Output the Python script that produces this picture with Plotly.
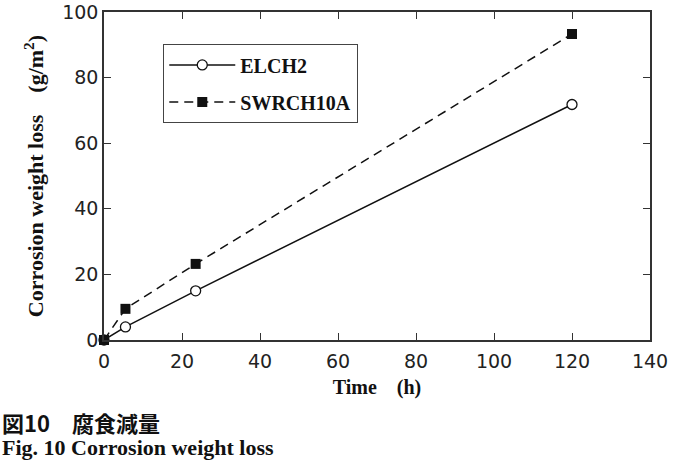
import plotly.graph_objects as go

time_h = [0, 5.5, 23.5, 120]
elch2 = [0, 4.0, 15.0, 71.8]
swrch10a = [0, 9.5, 23.2, 93.3]

x_ticks = [0, 20, 40, 60, 80, 100, 120, 140]
y_ticks = [0, 20, 40, 60, 80, 100]

serif = "Liberation Serif"
sans = "DejaVu Sans"
axis_col = "#333333"

fig = go.Figure()
fig.add_trace(go.Scatter(
    x=time_h, y=elch2, name="ELCH2", mode="lines+markers", legendgroup="a",
    line=dict(color="#111111", width=1.5),
    marker=dict(symbol="circle", size=10, color="white",
                line=dict(color="#111111", width=1.3)),
    cliponaxis=False,
))
fig.add_trace(go.Scatter(
    x=time_h, y=swrch10a, name="SWRCH10A", mode="lines+markers", legendgroup="b",
    line=dict(color="#111111", width=1.5, dash="9px,6px"),
    marker=dict(symbol="square", size=10, color="#111111",
                line=dict(color="#111111", width=0)),
    cliponaxis=False,
))

fig.update_layout(
    width=682, height=462,
    margin=dict(l=104, r=32, t=12, b=122),
    paper_bgcolor="white", plot_bgcolor="white",
    showlegend=True,
    legend=dict(
        x=0.108, y=0.902, xanchor="left", yanchor="top",
        bordercolor="#444444", borderwidth=1.3, bgcolor="white",
        font=dict(family=serif, size=20, color="#111111", weight="bold"),
        itemwidth=66, tracegroupgap=8, traceorder="grouped",
    ),
    xaxis=dict(
        range=[0, 140], tickvals=x_ticks, ticktext=[str(v) for v in x_ticks],
        ticks="inside", ticklen=7, tickwidth=1.3, tickcolor=axis_col,
        showline=True, linecolor=axis_col, linewidth=1.5, mirror="ticks",
        showgrid=False, zeroline=False, automargin=False, ticklabelstandoff=3,
        tickfont=dict(family=sans, size=19, color="#222222"),
        title=dict(text="Time\u00a0\u00a0\u00a0\u00a0(h)", standoff=9,
                   font=dict(family=serif, size=20, color="#111111", weight="bold")),
    ),
    yaxis=dict(
        range=[0, 100], tickvals=y_ticks, ticktext=[str(v) for v in y_ticks],
        ticks="inside", ticklen=7, tickwidth=1.3, tickcolor=axis_col,
        showline=True, linecolor=axis_col, linewidth=1.5, mirror="ticks",
        showgrid=False, zeroline=False, automargin=False,
        tickfont=dict(family=sans, size=19, color="#222222"),
        title=dict(text="Corrosion weight loss\u00a0\u00a0\u00a0\u00a0(g/m<sup>2</sup>)", standoff=12,
                   font=dict(family=serif, size=22, color="#111111", weight="bold")),
    ),
    annotations=[
        dict(text="図10\u3000腐食減量", xref="paper", yref="paper",
             x=-0.1905, y=-0.25, xanchor="left", yanchor="middle", showarrow=False,
             font=dict(family="Noto Sans CJK JP", size=22, color="#111111", weight="bold")),
        dict(text="Fig. 10 Corrosion weight loss", xref="paper", yref="paper",
             x=-0.1905, y=-0.328, xanchor="left", yanchor="middle", showarrow=False,
             font=dict(family=serif, size=22, color="#111111", weight="bold")),
    ],
)

fig.write_html("out.html")
